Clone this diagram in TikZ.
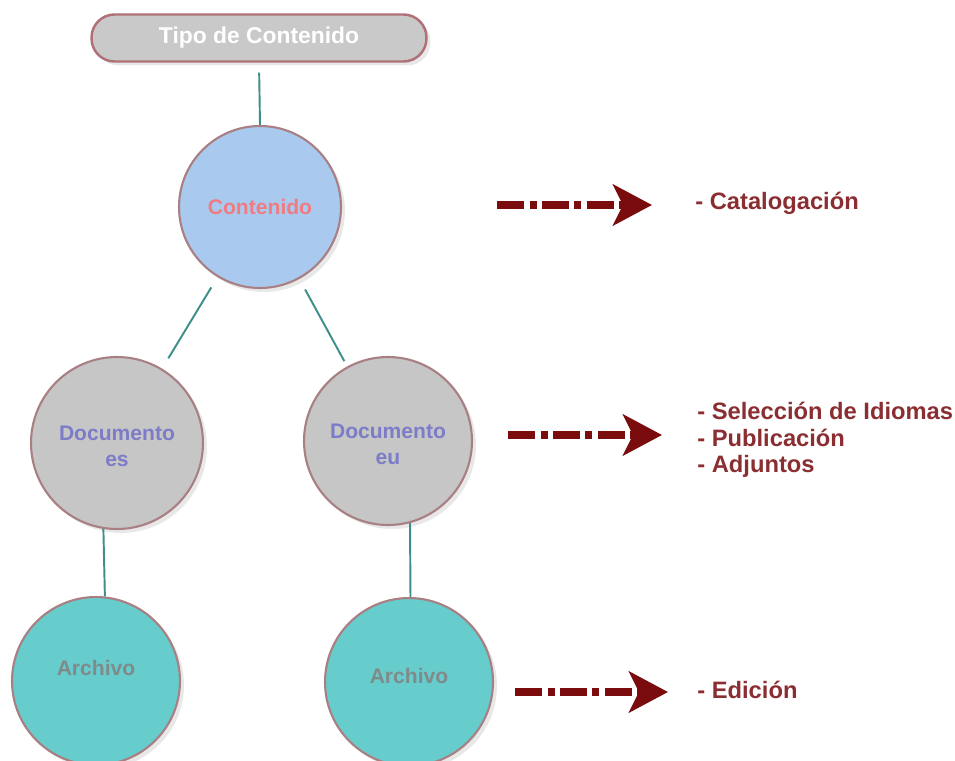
\documentclass[tikz,border=0pt]{standalone}
\usepackage{fontspec}
\setmainfont{Liberation Sans}
\usepackage{xcolor}
\usetikzlibrary{arrows.meta,shadows}

\definecolor{cajagris}{HTML}{C9C9C9}
\definecolor{bordecaja}{HTML}{B07078}
\definecolor{bordecirc}{HTML}{A88084}
\definecolor{azulcont}{HTML}{A9C9EF}
\definecolor{grisdoc}{HTML}{C6C6C6}
\definecolor{turquesa}{HTML}{66CCCC}
\definecolor{lineaverde}{HTML}{3E8E8C}
\definecolor{rosatexto}{HTML}{F07C82}
\definecolor{liladoc}{HTML}{7C7CC8}
\definecolor{grisarch}{HTML}{7F8B8B}
\definecolor{rojoflecha}{HTML}{7A0C0E}
\definecolor{rojotexto}{HTML}{8B2E32}

% texto desplazado en vertical dentro del circulo
\newcommand{\desplaza}[2]{\raisebox{#1}[1em][1em]{#2}}
\newcommand{\doslineas}[2]{\desplaza{-6pt}{\begin{tabular}{@{}c@{}}#1\\#2\end{tabular}}}

\begin{document}
\begin{tikzpicture}[x=0.02cm, y=-0.02cm,
    every node/.style={font=\bfseries\fontsize{12}{14}\selectfont},
    sombra/.style={drop shadow={shadow xshift=0.08cm, shadow yshift=-0.08cm, opacity=0.18}},
    caja/.style={draw=bordecaja, line width=1.4pt, fill=cajagris, rounded corners=0.46cm,
        minimum width=6.7cm, minimum height=0.94cm, sombra},
    circulo/.style={circle, draw=bordecirc, line width=1.2pt, sombra},
    conector/.style={draw=lineaverde, line width=1.1pt},
    flecha/.style={draw=rojoflecha, line width=4.5pt,
        dash pattern=on 0.54cm off 0.11cm on 0.14cm off 0.11cm,
        -{Stealth[length=0.78cm, width=0.82cm, inset=0.2cm]}},
    lista/.style={anchor=west, inner sep=0pt, align=left, text=rojotexto,
        font=\bfseries\fontsize{13.5}{15}\selectfont}]

    \useasboundingbox[fill=white] (0,0) rectangle (955,760);

    % Tipo de contenido
    \node[caja, text=white, font=\bfseries\fontsize{13}{15}\selectfont] (tipo) at (259,38)
        {Tipo de Contenido};

    % Contenido
    \node[circulo, fill=azulcont, minimum size=3.24cm, text=rosatexto] (cont) at (260,207)
        {Contenido};

    % Documentos
    \node[circulo, fill=grisdoc, minimum size=3.44cm, text=liladoc,
        font=\bfseries\fontsize{12}{14.5}\selectfont] (doces) at (117,443)
        {\doslineas{Documento}{es}};
    \node[circulo, fill=grisdoc, minimum size=3.36cm, text=liladoc,
        font=\bfseries\fontsize{12}{14.5}\selectfont] (doceu) at (388,441)
        {\doslineas{Documento}{eu}};

    % Archivos
    \node[circulo, fill=turquesa, minimum size=3.36cm, text=grisarch] (arches) at (96,681)
        {\desplaza{3pt}{Archivo}};
    \node[circulo, fill=turquesa, minimum size=3.36cm, text=grisarch] (archeu) at (409,682)
        {\desplaza{-1pt}{Archivo}};

    % Uniones
    \draw[conector, shorten <=0.2cm] (tipo.south) -- (cont.north);
    \draw[conector, shorten <=0.24cm, shorten >=0.24cm] (cont) -- (doces);
    \draw[conector, shorten <=0.24cm, shorten >=0.12cm] (cont) -- (doceu);
    \draw[conector] (doces.-99) -- (arches.84);
    \draw[conector] (doceu.-75) -- (archeu.89);

    % Acciones
    \coordinate (ini1) at (497,205);
    \coordinate (fin1) at (652,205);
    \coordinate (ini2) at (508,435);
    \coordinate (fin2) at (662,435);
    \coordinate (ini3) at (515,692);
    \coordinate (fin3) at (668,692);
    \draw[flecha] (ini1) -- (fin1);
    \draw[flecha] (ini2) -- (fin2);
    \draw[flecha] (ini3) -- (fin3);

    \node[lista] (catal) at (695,203) {- Catalogación};
    \node[lista] (opciones) at (697,440) {- Selección de Idiomas\\- Publicación\\- Adjuntos};
    \node[lista] (edic) at (697,690) {- Edición};
\end{tikzpicture}
\end{document}
